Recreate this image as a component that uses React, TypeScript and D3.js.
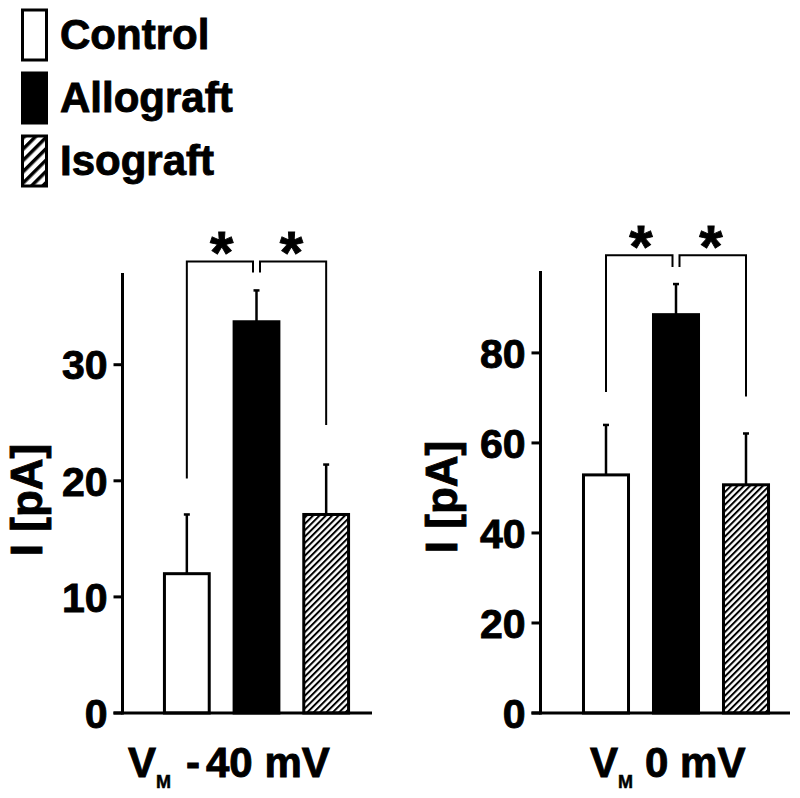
import React from "react";
import * as d3 from "d3";

// ---- data ----
const groups = ["Control", "Allograft", "Isograft"];
const panelAValues = [12.0, 33.7, 17.1];
const panelAErrors = [5.1, 2.7, 4.3];
const panelATicks = [0, 10, 20, 30];
const panelAYMax = 37.9;
const panelABracket = { top: 38.9, leftEnd: 20.2, rightEnd: 24.8, drop: 0.95 };

const panelBValues = [52.9, 88.5, 50.7];
const panelBErrors = [11.1, 6.8, 11.4];
const panelBTicks = [0, 20, 40, 60, 80];
const panelBYMax = 98.2;
const panelBBracket = { top: 101.7, leftEnd: 71.3, rightEnd: 70.3, drop: 2.6 };

const FONT = "'Liberation Sans', Arial, Helvetica, sans-serif";
const fills = ["#ffffff", "#000000", "url(#hatchBar)"];
const legendFills = ["#ffffff", "#000000", "url(#hatchLegend)"];
const textStyle = { stroke: "#000", strokeWidth: 0.9 };

type PanelProps = {
  values: number[];
  errors: number[];
  ticks: number[];
  yMax: number;
  bracket: { top: number; leftEnd: number; rightEnd: number; drop: number };
  xRange: [number, number];
  axisX: number;
  axisEnd: number;
  yTop: number;
  yLabelX: number;
  yLabelY: number;
  xLabelX: number;
  xLabelParts: { text: string; dx: number }[];
  subDx: number;
};

function Panel(p: PanelProps) {
  const y = d3.scaleLinear().domain([0, p.yMax]).range([713, p.yTop]);
  const x = d3
    .scaleBand<string>()
    .domain(groups)
    .range(p.xRange)
    .paddingInner(0.314)
    .paddingOuter(0.157);
  const bw = x.bandwidth();
  const cx = (g: string) => (x(g) as number) + bw / 2;
  const c0 = cx(groups[0]);
  const c1 = cx(groups[1]);
  const c2 = cx(groups[2]);
  const yb = y(p.bracket.top);
  const ydrop = y(p.bracket.top - p.bracket.drop);
  const gap = 3.5;
  return (
    <g>
      {groups.map((g, i) => (
        <rect
          key={g}
          x={(x(g) as number) + 1.5}
          y={y(p.values[i])}
          width={bw - 3}
          height={y(0) - y(p.values[i])}
          fill={fills[i]}
          stroke="#000"
          strokeWidth={3}
        />
      ))}
      {groups.map((g, i) => (
        <g key={g + "e"} stroke="#000">
          <line
            x1={cx(g)}
            x2={cx(g)}
            y1={y(p.values[i])}
            y2={y(p.values[i] + p.errors[i])}
            strokeWidth={2.5}
          />
          <line
            x1={cx(g) - 3}
            x2={cx(g) + 3}
            y1={y(p.values[i] + p.errors[i])}
            y2={y(p.values[i] + p.errors[i])}
            strokeWidth={2.5}
          />
        </g>
      ))}
      <path
        d={`M${c0},${y(p.bracket.leftEnd)}V${yb}H${c1 - gap}V${ydrop}`}
        fill="none"
        stroke="#000"
        strokeWidth={2}
      />
      <path
        d={`M${c1 + gap},${ydrop}V${yb}H${c2}V${y(p.bracket.rightEnd)}`}
        fill="none"
        stroke="#000"
        strokeWidth={2}
      />
      <text x={(c0 + c1) / 2} y={yb + 12} fontSize={60} fontWeight="bold" fontFamily={FONT} textAnchor="middle" {...textStyle}>*</text>
      <text x={(c1 + c2) / 2} y={yb + 12} fontSize={60} fontWeight="bold" fontFamily={FONT} textAnchor="middle" {...textStyle}>*</text>
      <line x1={p.axisX} x2={p.axisX} y1={p.yTop} y2={714.5} stroke="#000" strokeWidth={3} />
      <line x1={p.axisX - 9} x2={p.axisEnd} y1={713} y2={713} stroke="#000" strokeWidth={3} />
      {p.ticks.map((t) => (
        <g key={t}>
          <line x1={p.axisX - 9} x2={p.axisX} y1={y(t)} y2={y(t)} stroke="#000" strokeWidth={3} />
          <text
            x={p.axisX - 15}
            y={y(t)}
            dy="0.36em"
            textAnchor="end"
            fontSize={41}
            fontWeight="bold"
            fontFamily={FONT}
            {...textStyle}
          >
            {t}
          </text>
        </g>
      ))}
      <text
        transform={`translate(${p.yLabelX},${p.yLabelY}) rotate(-90)`}
        textAnchor="middle"
        fontSize={44}
        fontWeight="bold"
        fontFamily={FONT}
        {...textStyle}
      >
        I [pA]
      </text>
      <text x={p.xLabelX} y={777} fontSize={42} fontWeight="bold" fontFamily={FONT} {...textStyle}>
        V
        <tspan fontSize={18} dy={11} strokeWidth={0.5}>M</tspan>
        {p.xLabelParts.map((part, i) => (
          <tspan key={i} dy={i === 0 ? -11 : 0} dx={part.dx}>
            {part.text}
          </tspan>
        ))}
      </text>
    </g>
  );
}

export default function App() {
  const legendY = [10, 73, 136];
  return (
    <svg
      width={800}
      height={798}
      style={{ position: "absolute", left: 0, top: 0, background: "#fff" }}
    >
      <defs>
        <pattern id="hatchBar" patternUnits="userSpaceOnUse" width={4.5} height={4.5} patternTransform="rotate(45)">
          <rect width={4.5} height={4.5} fill="#fff" />
          <line x1={0} y1={0} x2={0} y2={4.5} stroke="#000" strokeWidth={4} />
        </pattern>
        <pattern id="hatchLegend" patternUnits="userSpaceOnUse" width={8} height={8} patternTransform="rotate(45)">
          <rect width={8} height={8} fill="#fff" />
          <line x1={0} y1={0} x2={0} y2={8} stroke="#000" strokeWidth={7} />
        </pattern>
      </defs>
      <rect width={800} height={798} fill="#fff" />
      {groups.map((g, i) => (
        <g key={g}>
          <rect x={22.5} y={legendY[i]} width={24} height={50} fill={legendFills[i]} stroke="#000" strokeWidth={3} />
          <text x={60} y={legendY[i] + 39} fontSize={42} fontWeight="bold" fontFamily={FONT} {...textStyle}>
            {g}
          </text>
        </g>
      ))}
      <Panel
        values={panelAValues}
        errors={panelAErrors}
        ticks={panelATicks}
        yMax={panelAYMax}
        bracket={panelABracket}
        xRange={[152, 361]}
        axisX={122.5}
        axisEnd={372}
        yTop={273}
        yLabelX={42}
        yLabelY={500}
        xLabelX={128}
        xLabelParts={[
          { text: "-", dx: 15 },
          { text: "40 mV", dx: 6 },
        ]}
        subDx={0}
      />
      <Panel
        values={panelBValues}
        errors={panelBErrors}
        ticks={panelBTicks}
        yMax={panelBYMax}
        bracket={panelBBracket}
        xRange={[571, 781]}
        axisX={540.5}
        axisEnd={790}
        yTop={271}
        yLabelX={457}
        yLabelY={497}
        xLabelX={590}
        xLabelParts={[{ text: "0 mV", dx: 12 }]}
        subDx={0}
      />
    </svg>
  );
}
